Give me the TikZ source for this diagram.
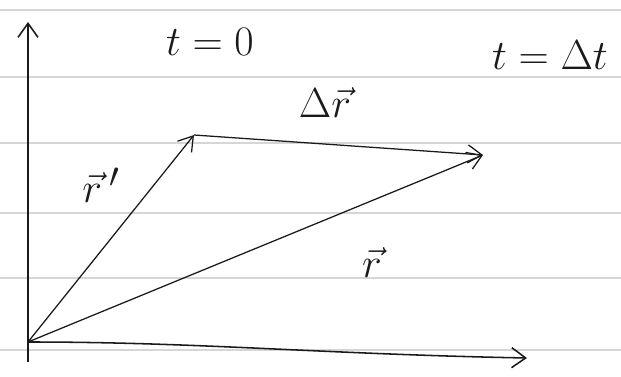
\documentclass[tikz,border=0pt]{standalone}
\usepackage{amsmath,amssymb}
\usepackage{xcolor}
\usetikzlibrary{arrows.meta,positioning,calc}
\definecolor{ink}  {HTML}{1A1A1A}
\definecolor{rule} {HTML}{D6D6D6}
\newcommand{\vr}{\vec{r}}

\begin{document}
\begin{tikzpicture}[
  every node/.style={font=\Huge, scale=1.2, text=ink},
  ruled/.style={rule, line width=1.2pt},
  axis/.style={ink, line width=1.1pt, -{Straight Barb[length=3.5mm,width=5mm]}},
  vec/.style={ink, line width=0.9pt, -{Straight Barb[length=3.5mm,width=4.5mm]}}
]
\useasboundingbox (0,0) rectangle (15.525,9.4);
% ruled paper
\foreach \y in {9.15,7.475,5.825,4.075,2.45,0.65}
  \draw[ruled] (0,\y) -- (15.525,\y);
% points
\coordinate (O)  at (0.7,0.85);
\coordinate (yb) at (0.7,0.35);
\coordinate (yt) at (0.7,8.85);
\coordinate (xt) at (13.175,0.45);
\coordinate (p1) at (4.85,6.025);
\coordinate (p2) at (12.075,5.525);
% axes
\draw[axis] (yb) -- (yt);
\draw[axis] (O) .. controls (5,0.85) and (8,0.55) .. (xt);
% vectors
\draw[vec] (O) -- (p1);
\draw[vec] (p1) -- (p2);
\draw[vec] (O) -- (p2);
% labels
\node (t0)  at (5.25,8.35)   {$t=0$};
\node (t1)  at (13.75,8.025) {$t=\Delta t$};
\node (dr)  at (8.125,6.825) {$\Delta\vr$};
\node (r1)  at (2.525,4.775) {$\vr\,'$};
\node (r2)  at (9.3,2.825)   {$\vr$};
\end{tikzpicture}
\end{document}
